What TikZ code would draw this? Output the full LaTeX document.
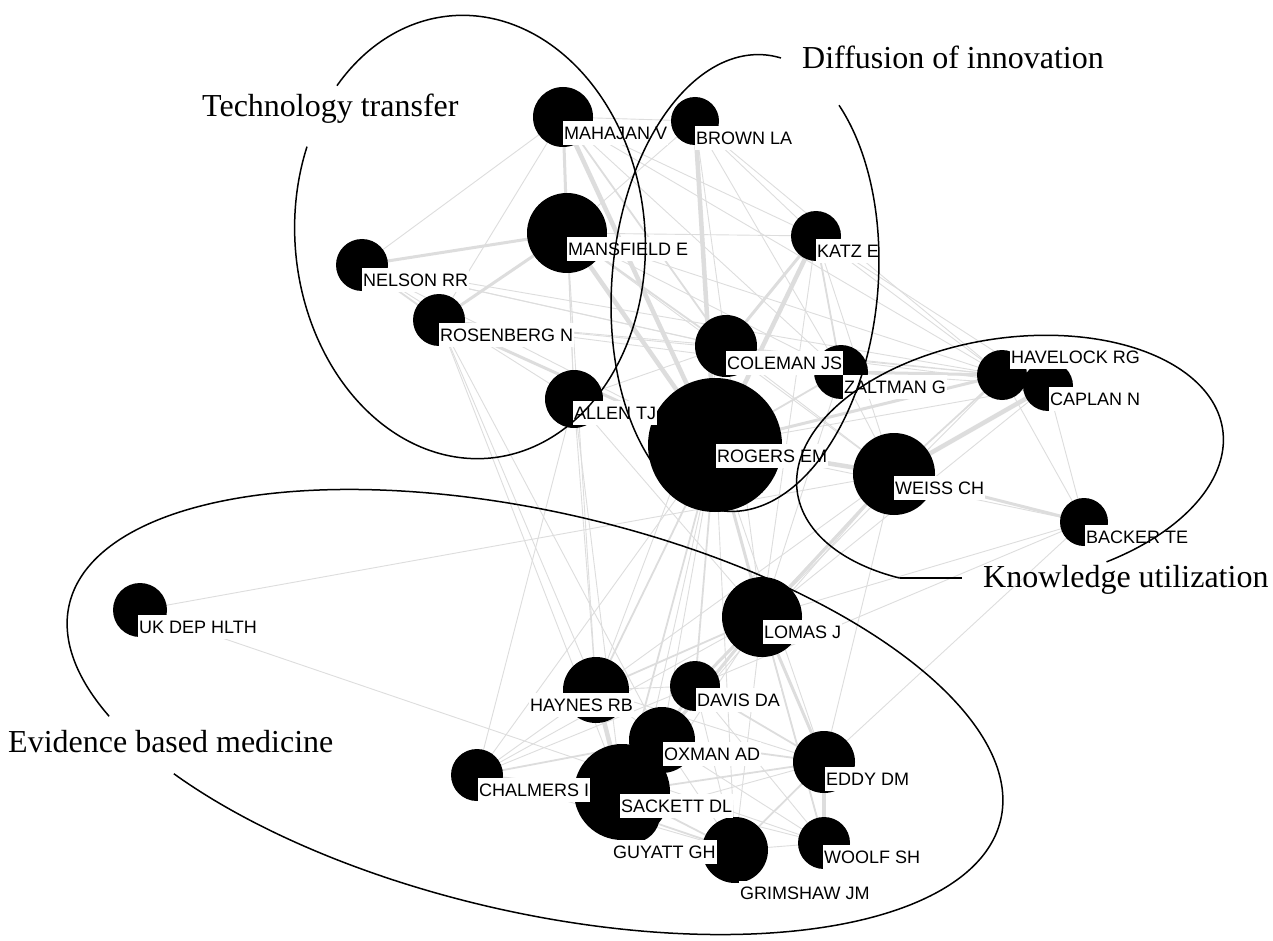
\documentclass[tikz,border=0pt]{standalone}
\usepackage{fontspec}
\setmainfont{Liberation Serif}
\newfontfamily\tagfont{Liberation Sans}
\definecolor{edgegray}{RGB}{221,221,221}
\pgfdeclarelayer{paper}
\pgfdeclarelayer{edges}
\pgfsetlayers{paper,edges,main}
\tikzset{
  actor/.style={circle, fill=black, inner sep=0pt, minimum size=#1},
  nametag/.style={fill=white, inner xsep=1pt, inner ysep=5.5pt, text height=13pt,
    text depth=0pt, anchor=west, font=\tagfont\fontsize{18}{18}\selectfont},
  group/.style={inner sep=0pt, anchor=base west, font=\fontsize{32}{32}\selectfont},
  hull/.style={line width=1.5pt, black},
  ea/.style={draw=edgegray, line width=0.9pt},
  eb/.style={draw=edgegray, line width=1.8pt},
  ec/.style={draw=edgegray, line width=3pt},
  ed/.style={draw=edgegray, line width=4.5pt},
}
\begin{document}
\begin{tikzpicture}[x=1pt,y=-1pt]
\begin{pgfonlayer}{paper}
\fill[white] (0,0) rectangle (1273,941);
\end{pgfonlayer}
\useasboundingbox (0,0) rectangle (1273,941);

% authors (circle size = citation weight)
\node[actor=60pt] (mahajan)   at (563,117) {};
\node[actor=48pt] (brown)     at (695,121) {};
\node[actor=80pt] (mansfield) at (567,233) {};
\node[actor=52pt] (nelson)    at (362,265) {};
\node[actor=52pt] (rosenberg) at (439,320) {};
\node[actor=58pt] (allen)     at (574,399) {};
\node[actor=50pt] (katz)      at (816,236) {};
\node[actor=62pt] (coleman)   at (726,346) {};
\node[actor=54pt] (zaltman)   at (841,372) {};
\node[actor=134pt] (rogers)   at (715,445) {};
\node[actor=50pt] (havelock)  at (1002,375) {};
\node[actor=50pt] (caplan)    at (1048,386) {};
\node[actor=82pt] (weiss)     at (894,474) {};
\node[actor=48pt] (backer)    at (1084,522) {};
\node[actor=54pt] (ukdep)     at (140,610) {};
\node[actor=80pt] (lomas)     at (762,617) {};
\node[actor=66pt] (haynes)    at (596,690) {};
\node[actor=50pt] (davis)     at (695,686) {};
\node[actor=66pt] (oxman)     at (662,740) {};
\node[actor=96pt] (sackett)   at (622,792) {};
\node[actor=52pt] (chalmers)  at (477,775) {};
\node[actor=56pt] (guyatt)    at (632,815) {};
\node[actor=66pt] (grimshaw)  at (735,850) {};
\node[actor=62pt] (eddy)      at (824,762) {};
\node[actor=52pt] (woolf)     at (824,843) {};

% co-citation links
\begin{pgfonlayer}{edges}
\foreach \a/\b in {
  nelson/mahajan, nelson/rogers, nelson/havelock, nelson/coleman, nelson/zaltman,
  nelson/allen, rosenberg/coleman, rosenberg/mahajan, rosenberg/haynes, rosenberg/sackett,
  rosenberg/zaltman, rosenberg/havelock, rosenberg/oxman, allen/mansfield, allen/haynes,
  allen/sackett, allen/lomas, allen/chalmers, allen/coleman, mahajan/katz, mahajan/brown,
  mahajan/zaltman, mahajan/allen, mahajan/havelock, brown/mansfield, brown/coleman,
  brown/zaltman, brown/havelock, brown/katz, mansfield/katz, mansfield/zaltman,
  mansfield/havelock, mansfield/haynes, mansfield/weiss, katz/zaltman, katz/havelock,
  katz/caplan, katz/weiss, katz/lomas, coleman/havelock, coleman/weiss, coleman/lomas,
  coleman/haynes, coleman/caplan, zaltman/caplan, zaltman/weiss, zaltman/lomas,
  havelock/caplan, havelock/backer, caplan/backer, caplan/lomas, weiss/eddy, weiss/oxman,
  weiss/davis, backer/lomas, backer/eddy, backer/davis, rogers/oxman, rogers/chalmers,
  rogers/eddy, rogers/woolf, rogers/grimshaw, rogers/guyatt, rogers/caplan, rogers/backer,
  ukdep/weiss, ukdep/woolf, haynes/davis, haynes/oxman, haynes/chalmers, haynes/eddy,
  haynes/guyatt, davis/grimshaw, davis/sackett, davis/woolf, oxman/woolf, oxman/grimshaw,
  sackett/woolf, guyatt/eddy, chalmers/lomas, chalmers/grimshaw, chalmers/davis,
  woolf/grimshaw, lomas/grimshaw, lomas/guyatt, weiss/haynes, havelock/lomas}
  \draw[ea] (\a.center) -- (\b.center);
\foreach \a/\b in {
  nelson/rosenberg, allen/rogers, coleman/zaltman, rogers/zaltman, havelock/weiss,
  lomas/sackett, lomas/woolf, lomas/haynes, davis/oxman, oxman/eddy, sackett/grimshaw,
  eddy/grimshaw, sackett/eddy, chalmers/oxman, guyatt/grimshaw, davis/eddy, rogers/davis,
  rogers/sackett, rogers/haynes, mansfield/coleman, mahajan/coleman, katz/zaltman}
  \draw[eb] (\a.center) -- (\b.center);
\foreach \a/\b in {
  mahajan/mansfield, mansfield/rosenberg, mansfield/nelson, katz/coleman, zaltman/havelock,
  rogers/havelock, rogers/lomas, weiss/lomas, lomas/eddy, lomas/oxman, lomas/davis,
  oxman/sackett, sackett/chalmers, weiss/backer, rosenberg/rogers}
  \draw[ec] (\a.center) -- (\b.center);
\foreach \a/\b in {
  mahajan/rogers, brown/rogers, mansfield/rogers, katz/rogers, rogers/weiss, weiss/caplan,
  haynes/sackett, eddy/woolf}
  \draw[ed] (\a.center) -- (\b.center);
\end{pgfonlayer}

% author names
\node[nametag] (mahajan-t)   at (563,133) {MAHAJAN V};
\node[nametag] (brown-t)     at (695,138) {BROWN LA};
\node[nametag] (mansfield-t) at (567,249) {MANSFIELD E};
\node[nametag] (nelson-t)    at (362,280) {NELSON RR};
\node[nametag] (rosenberg-t) at (439,335) {ROSENBERG N};
\node[nametag] (allen-t)     at (573,413) {ALLEN TJ};
\node[nametag] (katz-t)      at (816,251) {KATZ E};
\node[nametag] (coleman-t)   at (726,363) {COLEMAN JS};
\node[nametag] (zaltman-t)   at (843,387) {ZALTMAN G};
\node[nametag] (rogers-t)    at (716,456) {ROGERS EM};
\node[nametag] (havelock-t)  at (1010,357) {HAVELOCK RG};
\node[nametag] (caplan-t)    at (1049,399) {CAPLAN N};
\node[nametag] (weiss-t)     at (894,488) {WEISS CH};
\node[nametag] (backer-t)    at (1085,537) {BACKER TE};
\node[nametag] (ukdep-t)     at (138,627) {UK DEP HLTH};
\node[nametag] (lomas-t)     at (763,632) {LOMAS J};
\node[nametag] (haynes-t)    at (529,705) {HAYNES RB};
\node[nametag] (davis-t)     at (696,700) {DAVIS DA};
\node[nametag] (oxman-t)     at (663,754) {OXMAN AD};
\node[nametag] (sackett-t)   at (620,806) {SACKETT DL};
\node[nametag] (chalmers-t)  at (478,790) {CHALMERS I};
\node[nametag] (guyatt-t)    at (612,852) {GUYATT GH};
\node[nametag] (grimshaw-t)  at (739,893) {GRIMSHAW JM};
\node[nametag] (eddy-t)      at (825,779) {EDDY DM};
\node[nametag] (woolf-t)     at (823,857) {WOOLF SH};

% research fields
\node[group] (techlab) at (202,117) {Technology transfer};
\node[group] (difflab) at (802,69)  {Diffusion of innovation};
\node[group] (knowlab) at (983,587) {Knowledge utilization};
\node[group] (evidlab) at (8,752)   {Evidence based medicine};

% field outlines, open where the field name sits
\begin{scope}[shift={(470,237)}, y=1pt, rotate=5]
  \draw[hull] plot[domain=152:493, samples=160, smooth] ({175*cos(\x)},{222*sin(\x)});
\end{scope}
\begin{scope}[shift={(745,283)}, y=1pt, rotate=-5]
  \draw[hull] plot[domain=83:414, samples=160, smooth] ({133*cos(\x)},{229*sin(\x)});
\end{scope}
\begin{scope}[shift={(1010,461)}, y=1pt, rotate=8.5]
  \draw[hull] plot[domain=292:594, samples=160, smooth] ({215*cos(\x)},{123*sin(\x)});
\end{scope}
\coordinate (kufoot) at (900,578);
\coordinate (kutip) at (962,578);
\draw[hull] (kufoot) -- (kutip);
\begin{scope}[shift={(535,712)}, y=1pt, rotate=-13]
  \draw[hull] plot[domain=225:570, samples=200, smooth] ({478*cos(\x)},{200*sin(\x)});
\end{scope}
\end{tikzpicture}
\end{document}
